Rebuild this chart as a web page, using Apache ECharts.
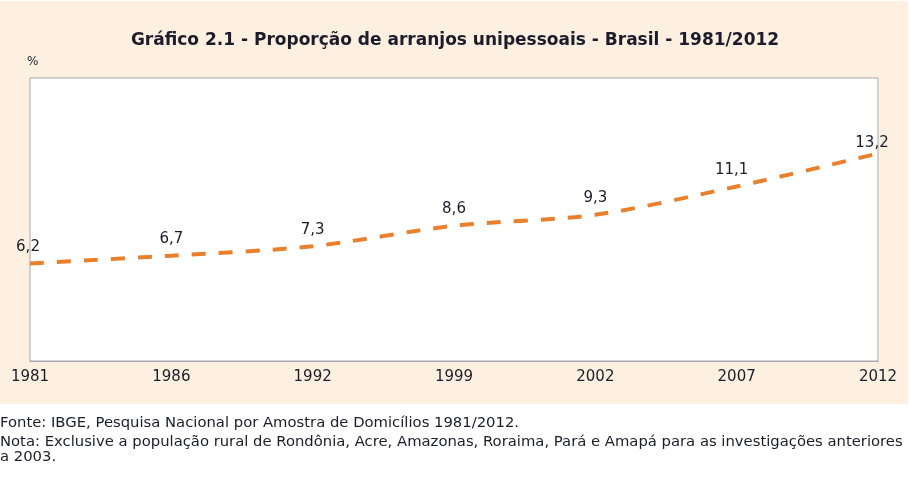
<!DOCTYPE html>
<html>
<head>
<meta charset="utf-8">
<script src="https://cdn.jsdelivr.net/npm/echarts@6/dist/echarts.min.js"></script>
<style>
html,body{margin:0;padding:0;background:#ffffff;}
#chart{width:910px;height:479px;}
</style>
</head>
<body>
<div id="chart"></div>
<script>
const categories = ['1981','1986','1992','1999','2002','2007','2012'];
const values = [6.2, 6.7, 7.3, 8.6, 9.3, 11.1, 13.2];
const valueLabels = ['6,2','6,7','7,3','8,6','9,3','11,1','13,2'];
const titleText = 'Gráfico 2.1 - Proporção de arranjos unipessoais - Brasil - 1981/2012';
const unitText = '%';
const footerLines = [
  'Fonte: IBGE, Pesquisa Nacional por Amostra de Domicílios 1981/2012.',
  'Nota: Exclusive a população rural de Rondônia, Acre, Amazonas, Roraima, Pará e Amapá para as investigações anteriores',
  'a 2003.'
];

const chart = echarts.init(document.getElementById('chart'), null, {renderer:'canvas'});
const FONT = '"DejaVu Sans", Verdana, sans-serif';
const TXT = '#1c1c2a';

const labelOffsets = { 0: [-2, 0], 5: [-5, 0], 6: [-6, 6] };
const seriesData = values.map((v, i) => {
  const item = { value: v };
  if (labelOffsets[i]) item.label = { offset: labelOffsets[i] };
  return item;
});

chart.setOption({
  backgroundColor: '#ffffff',
  animation: false,
  title: {
    text: titleText,
    left: 'center',
    top: 27,
    textStyle: { fontFamily: FONT, fontSize: 17, fontWeight: 'bold', color: TXT }
  },
  graphic: [
    { type: 'rect', z: -10, silent: true, shape: { x: 0, y: 1, width: 908, height: 403 }, style: { fill: '#fdf0e1' } },
    { type: 'text', left: 27, top: 56, style: { text: unitText, fontFamily: FONT, fontSize: 12, fill: TXT } },
    { type: 'text', left: 0, top: 416, style: { text: footerLines[0], fontFamily: FONT, fontSize: 14.8, fill: TXT } },
    { type: 'text', left: 0, top: 435, style: { text: footerLines[1], fontFamily: FONT, fontSize: 14.8, fill: TXT } },
    { type: 'text', left: 0, top: 450, style: { text: footerLines[2], fontFamily: FONT, fontSize: 14.8, fill: TXT } }
  ],
  grid: {
    left: 30, right: 32, top: 78, bottom: 118,
    show: true, backgroundColor: '#ffffff', borderColor: '#a6a6b0', borderWidth: 1
  },
  xAxis: {
    type: 'category',
    data: categories,
    boundaryGap: false,
    axisLine: { lineStyle: { color: '#a6a6b0' } },
    axisTick: { show: false },
    axisLabel: { fontFamily: FONT, fontSize: 15, color: TXT, margin: 9 },
    splitLine: { show: false }
  },
  yAxis: {
    type: 'value', min: 0, max: 18, interval: 2,
    show: false,
    splitLine: { show: false }
  },
  series: [{
    type: 'line',
    data: seriesData,
    smooth: 0.3,
    symbol: 'circle',
    symbolSize: 2,
    showSymbol: true,
    itemStyle: { color: 'rgba(0,0,0,0)' },
    lineStyle: { color: '#ea7f2c', width: 4, type: [14, 13] },
    label: {
      show: true,
      position: 'top',
      distance: 8,
      fontFamily: FONT,
      fontSize: 15,
      color: TXT,
      formatter: p => valueLabels[p.dataIndex]
    }
  }]
});
</script>
</body>
</html>
